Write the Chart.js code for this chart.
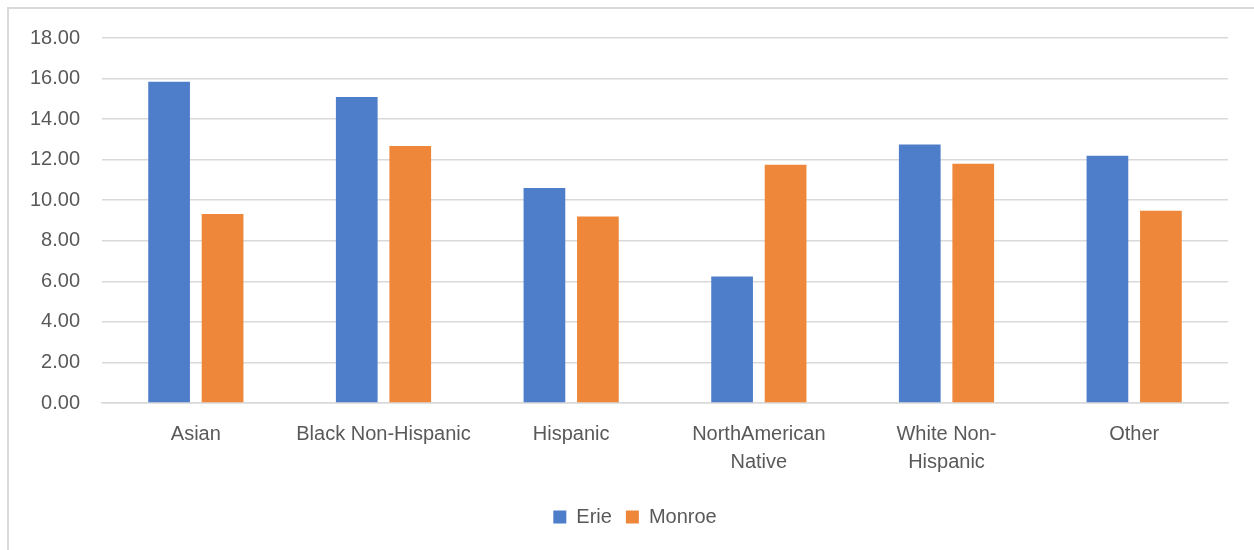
<!DOCTYPE html>
<html>
<head>
<meta charset="utf-8">
<script src="https://cdn.jsdelivr.net/npm/chart.js@4/dist/chart.umd.min.js"></script>
<style>
  html, body { margin: 0; padding: 0; background: #ffffff; }
  #wrap { position: relative; width: 1254px; height: 550px; overflow: hidden; }
  #frame { position: absolute; left: 7px; top: 7px; width: 1260px; height: 560px; border-top: 2px solid #d9d9d9; border-left: 2px solid #d9d9d9; box-sizing: border-box; pointer-events: none; }
  canvas { position: absolute; left: 0; top: 0; }
</style>
</head>
<body>
<div id="wrap">
  <canvas id="c" width="1254" height="550"></canvas>
  <div id="frame"></div>
</div>
<script>
const categories = ["Asian", "Black Non-Hispanic", "Hispanic", ["NorthAmerican", "Native"], ["White Non-", "Hispanic"], "Other"];
const seriesNames = ["Erie", "Monroe"];
const erieValues = [15.84, 15.09, 10.60, 6.24, 12.75, 12.19];
const monroeValues = [9.32, 12.67, 9.20, 11.75, 11.80, 9.48];
const yTickMin = 0, yTickMax = 18, yTickStep = 2;

const textColor = '#595959';
const gridColor = '#d9d9d9';
const fontFamily = '"Liberation Sans", Arial, sans-serif';

const legendShift = {
  id: 'legendShift',
  afterLayout(chart) {
    const lg = chart.legend;
    if (lg) { lg.left += 21; lg.right += 21; }
  }
};

new Chart(document.getElementById('c'), {
  type: 'bar',
  data: {
    labels: categories,
    datasets: [
      { label: seriesNames[0], data: erieValues, backgroundColor: '#4e7eca', borderWidth: 0 },
      { label: seriesNames[1], data: monroeValues, backgroundColor: '#ef873a', borderWidth: 0 }
    ]
  },
  plugins: [legendShift],
  options: {
    responsive: false,
    animation: false,
    devicePixelRatio: 1,
    layout: { padding: { left: 0, right: 26, top: 38, bottom: 13 } },
    datasets: { bar: { categoryPercentage: 0.57, barPercentage: 0.78 } },
    plugins: {
      tooltip: { enabled: false },
      legend: {
        position: 'bottom',
        labels: {
          color: textColor,
          font: { family: fontFamily, size: 20 },
          boxWidth: 13,
          boxHeight: 13,
          padding: 14
        }
      }
    },
    scales: {
      x: {
        grid: { display: false, drawTicks: false },
        border: { display: true, color: gridColor, width: 1.5 },
        ticks: {
          color: textColor,
          font: { family: fontFamily, size: 20, lineHeight: 1.4 },
          padding: 17,
          maxRotation: 0,
          autoSkip: false
        }
      },
      y: {
        min: yTickMin,
        max: yTickMax,
        afterFit: (s) => { s.width = 102; },
        grid: { color: gridColor, lineWidth: 1.5, drawTicks: false },
        border: { display: false },
        ticks: {
          stepSize: yTickStep,
          color: textColor,
          font: { family: fontFamily, size: 20 },
          padding: 22,
          callback: (v) => Number(v).toFixed(2)
        }
      }
    }
  }
});
</script>
</body>
</html>
